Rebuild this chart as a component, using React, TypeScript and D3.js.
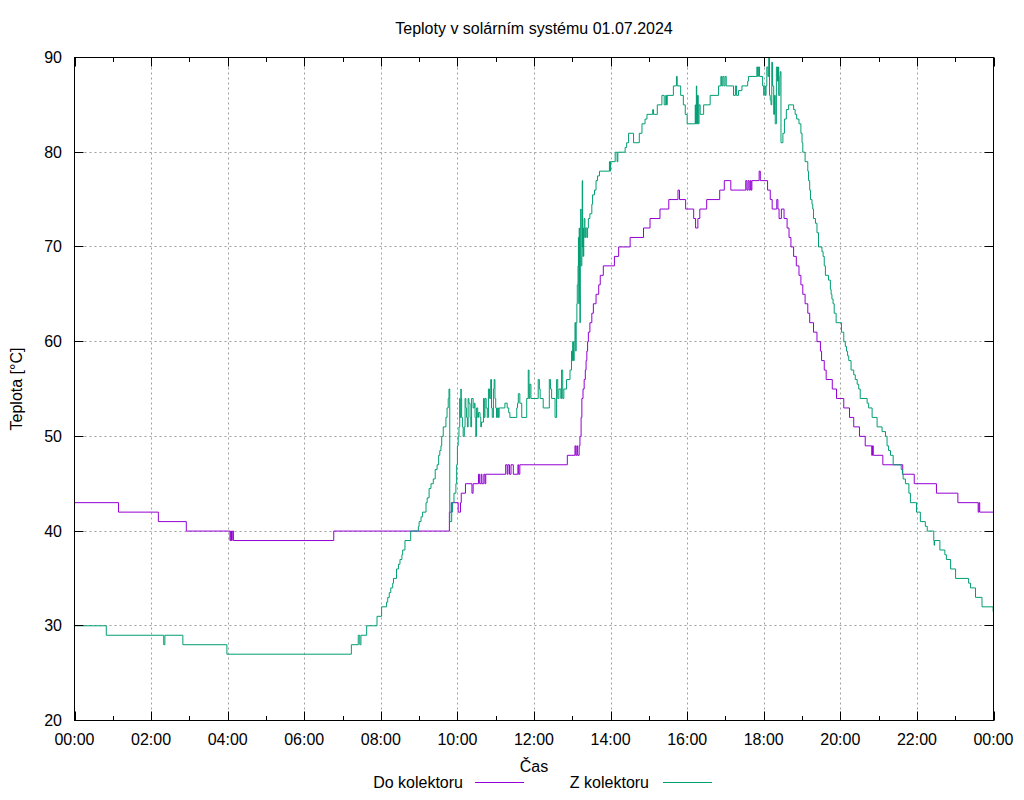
import React from 'react';
import * as d3 from 'd3';

const TITLE = 'Teploty v solárním systému 01.07.2024';
const X_LABEL = 'Čas';
const Y_LABEL = 'Teplota [°C]';
const SERIES_NAMES = ['Do kolektoru', 'Z kolektoru'];
const SERIES_COLORS = ['#9400d3', '#009e73'];

const X_MAJOR_HOURS = [0, 2, 4, 6, 8, 10, 12, 14, 16, 18, 20, 22, 24];
const X_MINOR_HOURS = [1, 3, 5, 7, 9, 11, 13, 15, 17, 19, 21, 23];
const X_TICK_LABELS = ['00:00', '02:00', '04:00', '06:00', '08:00', '10:00', '12:00', '14:00', '16:00', '18:00', '20:00', '22:00', '00:00'];
const Y_TICKS = [20, 30, 40, 50, 60, 70, 80, 90];

// [hour, °C] — step breakpoints
const doKolektoru: [number, number][] = [
  [0, 43], [1.15, 42], [2.19, 41], [2.92, 40], [4.06, 39], [4.08, 40], [4.10, 39], [4.12, 40], [4.15, 39],
  [6.77, 40], [9.79, 42], [9.84, 43], [10.02, 42], [10.08, 43], [10.10, 44], [10.21, 45], [10.38, 44],
  [10.41, 45], [10.55, 46], [10.58, 45], [10.62, 46], [10.64, 45], [10.69, 46], [10.72, 45], [10.74, 46],
  [11.26, 47], [11.30, 46], [11.32, 47], [11.36, 46], [11.40, 47], [11.46, 46], [11.58, 47], [11.60, 46],
  [11.63, 47], [12.87, 48], [13.07, 49], [13.09, 48], [13.12, 49], [13.14, 48], [13.18, 49], [13.20, 50],
  [13.23, 52], [13.25, 54], [13.28, 55], [13.31, 56], [13.34, 57], [13.36, 58], [13.38, 59], [13.40, 60],
  [13.42, 61], [13.46, 62], [13.51, 63], [13.55, 64], [13.62, 65], [13.69, 66], [13.73, 67], [13.81, 68],
  [14.10, 69], [14.21, 70], [14.51, 71], [14.86, 72], [15.03, 73], [15.29, 74], [15.52, 75], [15.76, 76],
  [15.80, 75], [15.96, 74], [16.17, 73], [16.22, 72], [16.28, 73], [16.33, 74], [16.51, 75], [16.85, 76],
  [16.97, 77], [17.14, 76], [17.53, 77], [17.56, 76], [17.59, 77], [17.62, 76], [17.65, 77], [17.67, 76],
  [17.69, 77], [17.88, 78], [17.91, 77], [18.10, 76], [18.17, 75], [18.22, 74], [18.34, 75], [18.37, 74],
  [18.40, 73], [18.46, 74], [18.53, 73], [18.61, 72], [18.66, 71], [18.71, 70], [18.78, 69], [18.85, 68],
  [18.92, 67], [18.97, 66], [19.02, 65], [19.08, 64], [19.15, 63], [19.20, 62], [19.30, 61], [19.39, 60],
  [19.48, 59], [19.51, 58], [19.58, 57], [19.63, 56], [19.79, 55], [19.90, 54], [20.09, 53], [20.24, 52],
  [20.35, 51], [20.50, 50], [20.65, 49], [20.82, 48], [20.84, 49], [20.86, 48], [21.11, 47], [21.63, 46],
  [21.93, 45], [22.51, 44], [23.07, 43], [23.60, 42], [23.62, 43], [23.64, 42], [24, 42],
];

const zKolektoru: [number, number][] = [
  [0, 30], [0.83, 29], [2.33, 28], [2.36, 29], [2.83, 28], [3.98, 27], [7.23, 28], [7.41, 29], [7.45, 28],
  [7.48, 29], [7.63, 30], [7.90, 31], [8.02, 32], [8.15, 32.5], [8.18, 33], [8.22, 33.5], [8.26, 34],
  [8.31, 34.5], [8.33, 35], [8.41, 36], [8.46, 36.5], [8.50, 37], [8.55, 37.5], [8.57, 38], [8.63, 39],
  [8.78, 40], [8.98, 40.5], [9.00, 41], [9.05, 41.5], [9.09, 42], [9.18, 43], [9.21, 43.5], [9.26, 44.5],
  [9.31, 45], [9.37, 45.5], [9.42, 46.5], [9.47, 47], [9.51, 48], [9.54, 48.5], [9.57, 49], [9.59, 50],
  [9.63, 51], [9.70, 52], [9.73, 53], [9.76, 54], [9.78, 55], [9.80, 41], [9.85, 42], [9.87, 43],
  [9.91, 44], [9.96, 45], [9.98, 47], [10.00, 49], [10.02, 50], [10.04, 51], [10.06, 54], [10.07, 52],
  [10.09, 55], [10.10, 54], [10.11, 52], [10.13, 51], [10.15, 50], [10.18, 51], [10.20, 54], [10.22, 53],
  [10.24, 52], [10.26, 51], [10.28, 54], [10.30, 53.5], [10.33, 52], [10.35, 51], [10.37, 54], [10.41, 53],
  [10.44, 53.5], [10.46, 52], [10.48, 50], [10.50, 53], [10.53, 52], [10.55, 52.5], [10.59, 52], [10.61, 51],
  [10.63, 51.5], [10.68, 54], [10.70, 52], [10.72, 54], [10.75, 53], [10.78, 52], [10.81, 55], [10.84, 54],
  [10.87, 56], [10.89, 53], [10.91, 52], [10.94, 55], [10.96, 56], [10.98, 54], [11.00, 53], [11.02, 52],
  [11.05, 53], [11.07, 52], [11.09, 53], [11.24, 53.5], [11.30, 53], [11.34, 52.5], [11.37, 52], [11.55, 53],
  [11.57, 53.5], [11.59, 54.5], [11.63, 53.5], [11.68, 52], [11.81, 54], [11.85, 57], [11.87, 54], [11.89, 55.5],
  [11.92, 54], [12.11, 56], [12.14, 55], [12.16, 54], [12.24, 53], [12.40, 56], [12.43, 55], [12.46, 54],
  [12.55, 52], [12.59, 56], [12.62, 54], [12.65, 55], [12.70, 54], [12.72, 57], [12.75, 54], [12.78, 55],
  [12.85, 56], [12.94, 57], [12.98, 59], [13.00, 58], [13.01, 60], [13.03, 58], [13.05, 60], [13.07, 62],
  [13.09, 59], [13.10, 62], [13.12, 64], [13.13, 66], [13.15, 68], [13.16, 71], [13.17, 64], [13.18, 72],
  [13.19, 65], [13.20, 62], [13.21, 70], [13.22, 74], [13.23, 68], [13.25, 69], [13.26, 77], [13.27, 70],
  [13.28, 72], [13.29, 69], [13.30, 71], [13.31, 73], [13.33, 71], [13.35, 72], [13.38, 71], [13.40, 72],
  [13.42, 73], [13.46, 73.5], [13.51, 74.5], [13.53, 75.5], [13.58, 76], [13.62, 77], [13.66, 77.5], [13.71, 78],
  [13.97, 79], [13.99, 78], [14.00, 79], [14.12, 80], [14.17, 79], [14.19, 80], [14.38, 80.5], [14.42, 81],
  [14.47, 82], [14.60, 81], [14.75, 82], [14.82, 83], [14.90, 83.5], [14.95, 84], [15.10, 84.5], [15.12, 84],
  [15.22, 85], [15.34, 86], [15.40, 85], [15.44, 86], [15.46, 85], [15.48, 86], [15.64, 87], [15.72, 88],
  [15.74, 87], [15.83, 86], [15.90, 85], [15.95, 84], [16.00, 83], [16.21, 85], [16.22, 83], [16.24, 87],
  [16.25, 83], [16.27, 86], [16.29, 83], [16.31, 85], [16.34, 84], [16.43, 85], [16.60, 86], [16.82, 87],
  [16.88, 88], [16.90, 87], [16.93, 88], [16.96, 87], [16.99, 88], [17.02, 87], [17.21, 86], [17.26, 87],
  [17.29, 86], [17.34, 86.5], [17.43, 87], [17.58, 87.5], [17.60, 88], [17.82, 89], [17.84, 88], [17.86, 89],
  [17.89, 88], [17.97, 87], [18.00, 86], [18.01, 87], [18.04, 86], [18.06, 87], [18.08, 89], [18.11, 88],
  [18.13, 90], [18.15, 86], [18.17, 85.5], [18.19, 85], [18.21, 89.5], [18.23, 87], [18.26, 84], [18.28, 86],
  [18.30, 83], [18.33, 89], [18.36, 87.5], [18.38, 89], [18.39, 86], [18.42, 88], [18.43, 88.5], [18.45, 81],
  [18.50, 82], [18.54, 83.5], [18.59, 84.5], [18.65, 85], [18.78, 84.5], [18.82, 84], [18.86, 83.5], [18.92, 83],
  [18.97, 82], [19.00, 81], [19.02, 80], [19.08, 79], [19.15, 78], [19.17, 77], [19.20, 76], [19.22, 75],
  [19.26, 74.5], [19.28, 74], [19.30, 73], [19.35, 72.5], [19.39, 71.5], [19.43, 70], [19.52, 69.5], [19.55, 69],
  [19.58, 68], [19.61, 67], [19.69, 66.5], [19.74, 65.5], [19.76, 65], [19.78, 64.5], [19.81, 64], [19.84, 63],
  [19.89, 62], [20.03, 61], [20.09, 60], [20.13, 59.5], [20.16, 59], [20.19, 58.5], [20.22, 58], [20.28, 57],
  [20.35, 56.5], [20.39, 56], [20.44, 55.5], [20.48, 55], [20.52, 54], [20.70, 53.5], [20.74, 53], [20.83, 52],
  [20.96, 51], [21.09, 50.5], [21.18, 50], [21.22, 49], [21.26, 48.5], [21.31, 48], [21.38, 47], [21.59, 46.5],
  [21.62, 46], [21.64, 45.5], [21.70, 45], [21.79, 44], [21.83, 43], [21.99, 42], [22.09, 41], [22.22, 40.5],
  [22.27, 40], [22.44, 39], [22.45, 38.5], [22.46, 39], [22.60, 38], [22.73, 37.5], [22.77, 37], [22.88, 36],
  [23.01, 35], [23.35, 34.5], [23.40, 34], [23.53, 33], [23.70, 32], [23.99, 31.5], [24, 31.5],
];

const SERIES = [doKolektoru, zKolektoru];

const W = 1024;
const H = 800;
const PL = 74.5;
const PR = 993.5;
const PT = 57.5;
const PB = 720.5;
const FONT = '"Liberation Sans", Arial, sans-serif';
const FS = 16;

export default function App() {
  const x = d3.scaleLinear().domain([0, 24]).range([PL, PR]);
  const y = d3.scaleLinear().domain([20, 90]).range([PB, PT]);
  const line = d3
    .line<[number, number]>()
    .x((d) => x(d[0]))
    .y((d) => y(d[1]))
    .curve(d3.curveStepAfter);

  const majorLen = 9;
  const minorLen = 4.5;
  const cx = (PL + PR) / 2;

  return (
    <svg
      width={W}
      height={H}
      viewBox={`0 0 ${W} ${H}`}
      style={{ position: 'absolute', left: 0, top: 0, background: '#fff' }}
      fontFamily={FONT}
      fontSize={FS}
    >
      <rect x={0} y={0} width={W} height={H} fill="#fff" />
      <defs>
        <clipPath id="plotclip">
          <rect x={PL} y={PT - 0.5} width={PR - PL} height={PB - PT + 0.5} />
        </clipPath>
      </defs>

      {/* grid */}
      <g stroke="#a0a0a0" strokeWidth={1} strokeDasharray="2,3" fill="none">
        {X_MAJOR_HOURS.slice(1, -1).map((h) => (
          <line key={'gx' + h} x1={Math.round(x(h)) + 0.5} x2={Math.round(x(h)) + 0.5} y1={PT} y2={PB} />
        ))}
        {Y_TICKS.slice(1, -1).map((v) => (
          <line key={'gy' + v} x1={PL} x2={PR} y1={Math.round(y(v) - 0.5) + 0.5} y2={Math.round(y(v) - 0.5) + 0.5} />
        ))}
      </g>

      {/* series */}
      <g clipPath="url(#plotclip)" fill="none" strokeWidth={1}>
        {SERIES.map((s, i) => (
          <path key={'s' + i} d={line(s) || ''} stroke={SERIES_COLORS[i]} />
        ))}
      </g>

      {/* ticks */}
      <g stroke="#000" strokeWidth={1}>
        {X_MAJOR_HOURS.map((h) => {
          const xx = Math.round(x(h)) + 0.5;
          return (
            <g key={'tx' + h}>
              <line x1={xx} x2={xx} y1={PB} y2={PB - majorLen} />
              <line x1={xx} x2={xx} y1={PT} y2={PT + majorLen} />
            </g>
          );
        })}
        {X_MINOR_HOURS.map((h) => {
          const xx = Math.round(x(h)) + 0.5;
          return (
            <g key={'tm' + h}>
              <line x1={xx} x2={xx} y1={PB} y2={PB - minorLen} />
              <line x1={xx} x2={xx} y1={PT} y2={PT + minorLen} />
            </g>
          );
        })}
        {Y_TICKS.map((v) => {
          const yy = Math.round(y(v) - 0.5) + 0.5;
          return (
            <g key={'ty' + v}>
              <line x1={PL} x2={PL + majorLen} y1={yy} y2={yy} />
              <line x1={PR} x2={PR - majorLen} y1={yy} y2={yy} />
            </g>
          );
        })}
      </g>

      {/* border */}
      <rect x={PL} y={PT} width={PR - PL} height={PB - PT} fill="none" stroke="#000" strokeWidth={1} />

      {/* tick labels */}
      <g fill="#000">
        {X_MAJOR_HOURS.map((h, i) => (
          <text key={'lx' + i} x={x(h)} y={745} textAnchor="middle">
            {X_TICK_LABELS[i]}
          </text>
        ))}
        {Y_TICKS.map((v) => (
          <text key={'ly' + v} x={62} y={y(v) + 5.5} textAnchor="end">
            {v}
          </text>
        ))}
      </g>

      {/* titles */}
      <text x={cx} y={33.5} textAnchor="middle">
        {TITLE}
      </text>
      <text x={cx} y={772} textAnchor="middle">
        {X_LABEL}
      </text>
      <text transform={`translate(21.5, ${(PT + PB) / 2}) rotate(-90)`} textAnchor="middle">
        {Y_LABEL}
      </text>

      {/* legend */}
      <g>
        <text x={463} y={788} textAnchor="end">
          {SERIES_NAMES[0]}
        </text>
        <line x1={475} x2={524} y1={782.5} y2={782.5} stroke={SERIES_COLORS[0]} strokeWidth={1} />
        <text x={649} y={788} textAnchor="end">
          {SERIES_NAMES[1]}
        </text>
        <line x1={663} x2={712} y1={782.5} y2={782.5} stroke={SERIES_COLORS[1]} strokeWidth={1} />
      </g>
    </svg>
  );
}
